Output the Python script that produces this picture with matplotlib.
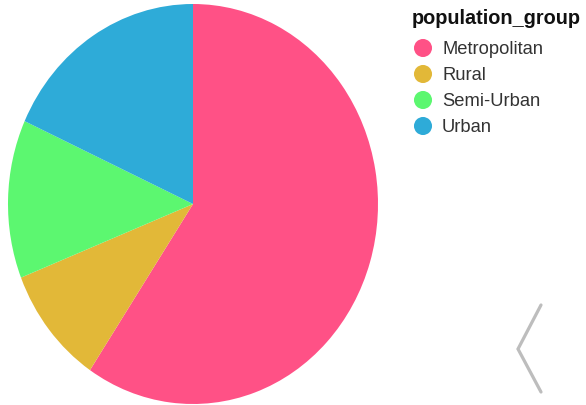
import matplotlib.pyplot as plt
from matplotlib.lines import Line2D

plt.rcParams['font.family'] = ['Liberation Sans', 'DejaVu Sans']

# population share per group
groups = ['Metropolitan', 'Rural', 'Semi-Urban', 'Urban']
shares = [59.4, 9.6, 12.8, 18.2]
colors = ['#FF5186', '#E2B838', '#5CF770', '#2EABD8']

W, H = 586, 406
fig = plt.figure(figsize=(W / 100, H / 100), dpi=100)

# pie area in pixels: x 8..378, y 5..405 (slightly stretched vertically)
ax = fig.add_axes([8 / W, 1 / H, 370 / W, 400 / H])
ax.pie(shares, colors=colors, startangle=90, counterclock=False,
       wedgeprops=dict(linewidth=0))
ax.set_aspect('auto')
ax.set_xlim(-1, 1)
ax.set_ylim(-1, 1)
ax.axis('off')

# legend drawn on an overlay in pixel coordinates
lax = fig.add_axes([0, 0, 1, 1], facecolor='none')
lax.set_xlim(0, W)
lax.set_ylim(H, 0)
lax.axis('off')

lax.text(412, 18, 'population_group', fontsize=14.3, fontweight='bold',
         color='#111111', va='center', ha='left')
rows = [49 + 26 * i for i in range(len(groups))]
lax.scatter([423] * len(groups), rows, s=13 ** 2, c=colors, linewidths=0)
for g, y in zip(groups, rows):
    lax.text(442, y, g, fontsize=13.2, color='#333333', va='center', ha='left')

# grey chevron at the bottom right
lax.plot([541, 518, 541], [306, 350, 393], color='#BDBDBD', linewidth=2.3,
         solid_capstyle='round', solid_joinstyle='miter')

fig.savefig('out.png', dpi=100)
